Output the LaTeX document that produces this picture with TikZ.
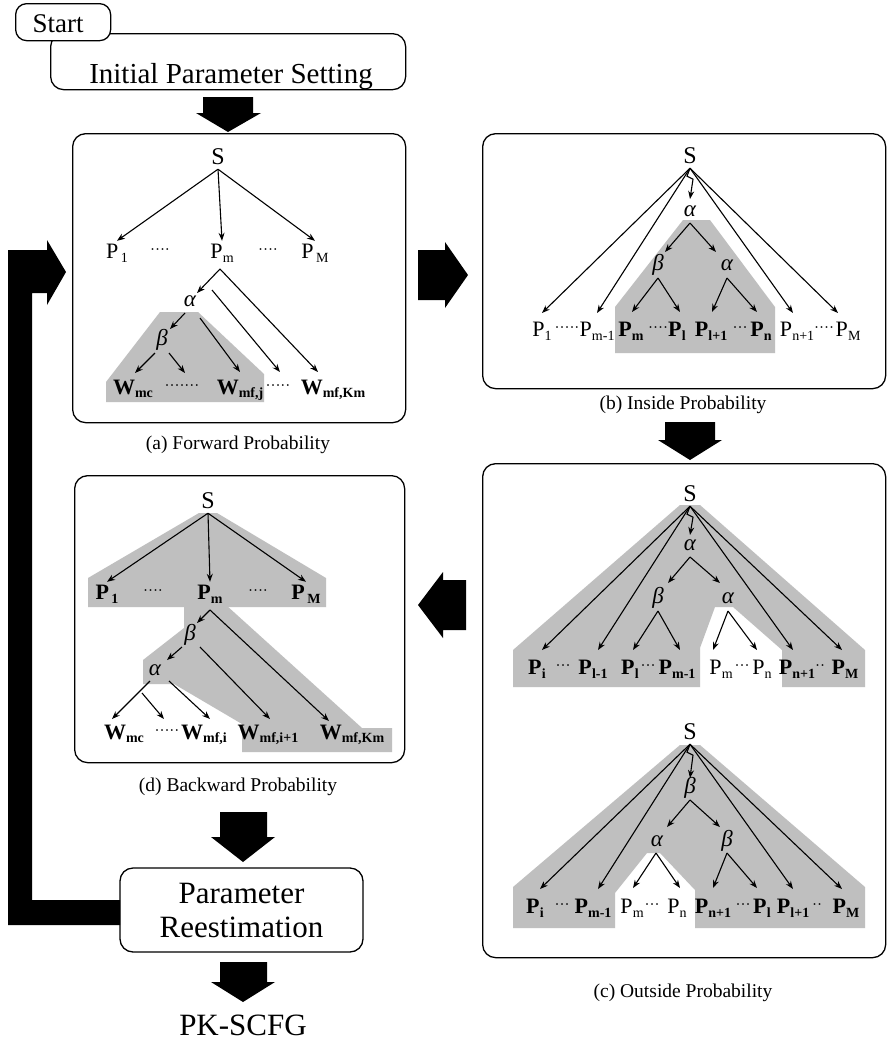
\documentclass[tikz,border=0pt]{standalone}
\usepackage{fontspec}
\setmainfont{Liberation Serif}
\usetikzlibrary{arrows.meta}
\newcommand{\PP}[1]{P\kern0.2pt\raisebox{-4.5pt}{\fontsize{14}{14}\selectfont #1}}
\newcommand{\PB}[1]{\textbf{P}\kern0.2pt\raisebox{-4.5pt}{\fontsize{14}{14}\selectfont\bfseries #1}}
\newcommand{\WW}[1]{\textbf{W}\raisebox{-3.5pt}{\fontsize{14}{14}\selectfont\bfseries #1}}
\newcommand{\ga}{\textit{α}}
\newcommand{\gb}{\textit{β}}
\begin{document}
\begin{tikzpicture}[x=1pt,y=-1pt,
  lbl/.style={inner sep=1pt,text height=16pt,text depth=4pt,font=\fontsize{22}{22}\selectfont},
  slbl/.style={inner sep=1pt,text height=16pt,text depth=4pt,font=\fontsize{24}{24}\selectfont},
  gk/.style={inner sep=1pt,text height=11pt,text depth=4pt,font=\fontsize{23}{23}\selectfont},
  dt/.style={inner sep=0pt,font=\fontsize{15}{15}\selectfont},
  arr/.style={-{Stealth[length=8pt,width=6pt]},line width=1.1pt},
  panel/.style={draw,line width=1.3pt,rounded corners=13pt,inner sep=0pt,anchor=north west},
  shd/.style={fill=black!25},
  blk/.style={fill=black},
  captxt/.style={font=\fontsize{19.5}{19.5}\selectfont},
]
\fill[white] (0,0) rectangle (887,1045);
\useasboundingbox (0,0) rectangle (887,1045);

% ---------- top boxes ----------
\node[panel,minimum width=355pt,minimum height=56pt] (init) at (50,33) {};
\node[anchor=base,font=\fontsize{29}{29}\selectfont] (initT) at (231,83) {Initial Parameter Setting};
\node[draw,line width=1.3pt,rounded corners=11pt,fill=white,minimum width=95pt,minimum height=37pt,inner sep=0pt,anchor=north west] (start) at (15,3) {};
\node[anchor=base,font=\fontsize{27}{27}\selectfont] (startT) at (58,32) {Start};

% ---------- block arrows ----------
\fill[blk] (203,97) -- (253,97) -- (253,113) -- (261,113) -- (228,132) -- (196,113) -- (203,113) -- cycle;
\fill[blk] (418,250) -- (445,250) -- (445,242) -- (468,275) -- (445,308) -- (445,300) -- (418,300) -- cycle;
\fill[blk] (665,422) -- (715,422) -- (715,440) -- (722,440) -- (690,460) -- (658,440) -- (665,440) -- cycle;
\fill[blk] (466,580) -- (443,580) -- (443,572) -- (418,605) -- (443,638) -- (443,630) -- (466,630) -- cycle;
\fill[blk] (220,812) -- (267,812) -- (267,837) -- (275,837) -- (243,862) -- (211,837) -- (220,837) -- cycle;
\fill[blk] (220,962) -- (267,962) -- (267,982) -- (275,982) -- (243,1002) -- (211,982) -- (220,982) -- cycle;
\fill[blk] (120,900) -- (120,925) -- (8,925) -- (8,250) -- (47,250) -- (47,240) -- (66,272) -- (47,305) -- (47,293) -- (32,293) -- (32,900) -- cycle;

% ---------- panel (a) ----------
\node[panel,minimum width=333pt,minimum height=289pt] (pa) at (72,133) {};
\fill[shd] (160,312) -- (198,312) -- (264,374) -- (264,402) -- (106,402) -- (106,382) -- cycle;
\node[slbl] (aS) at (218,158) {S};
\node[lbl] (aP1) at (117,252) {\PP{\,1}};
\node[dt] (ad1) at (160,252) {····};
\node[lbl] (aPm) at (222,252) {\PP{m}};
\node[dt] (ad2) at (268,252) {····};
\node[lbl] (aPM) at (315,252) {\PP{\,M}};
\node[gk] (aA) at (190,303) {\ga};
\node[gk] (aB) at (162,342) {\gb};
\node[lbl] (aW1) at (133,388) {\WW{mc}};
\node[dt] (ad3) at (182,388) {·······};
\node[lbl] (aW2) at (240,388) {\WW{mf,j}};
\node[dt] (ad4) at (278,388) {·····};
\node[lbl] (aW3) at (333,388) {\WW{mf,Km}};
\coordinate (aPt) at (220,269);
\coordinate (aAe) at (197,293);
\coordinate (aL2) at (212,290);
\coordinate (aAb) at (185,313);
\coordinate (aBe) at (170,329);
\coordinate (aAr) at (200,318);
\coordinate (aBl) at (155,353);
\coordinate (aBr) at (169,353);
\coordinate (aE1) at (135,373);
\coordinate (aE2) at (185,373);
\coordinate (aE3) at (240,372);
\coordinate (aE4) at (280,372);
\coordinate (aE5) at (318,372);
\draw[arr] (aS.south) -- (aP1.north);
\draw[arr] (aS.south) -- (aPm.north);
\draw[arr] (aS.south) -- (aPM.north);
\draw[arr] (aPt) -- (aAe);
\draw[arr] (aPt) -- (aE5);
\draw[arr] (aL2) -- (aE4);
\draw[arr] (aAb) -- (aBe);
\draw[arr] (aAr) -- (aE3);
\draw[arr] (aBl) -- (aE1);
\draw[arr] (aBr) -- (aE2);
\node[captxt] (capa) at (238,445) {(a) Forward Probability};

% ---------- panel (b) ----------
\node[panel,minimum width=403pt,minimum height=255pt] (pb) at (482,133) {};
\fill[shd] (683,220) -- (710,220) -- (775,307) -- (775,353) -- (615,353) -- (615,307) -- cycle;
\node[slbl] (bS) at (690,157) {S};
\node[gk] (bA) at (690,213) {\ga};
\node[gk] (bB) at (658,267) {\gb};
\node[gk] (bA2) at (727,267) {\ga};
\node[lbl] (bP1) at (542,330) {\PP{1}};
\node[dt] (bd1) at (567,330) {·····};
\node[lbl] (bPm1) at (597,330) {\PP{m-1}};
\node[lbl] (bPm) at (631,330) {\PB{m}};
\node[dt] (bd2) at (658,330) {····};
\node[lbl] (bPl) at (677,330) {\PB{l}};
\node[lbl] (bPl1) at (711,330) {\PB{l+1}};
\node[dt] (bd3) at (740,330) {···};
\node[lbl] (bPn) at (761,330) {\PB{n}};
\node[lbl] (bPn1) at (797,330) {\PP{n+1}};
\node[dt] (bd4) at (824,330) {····};
\node[lbl] (bPM) at (848,330) {\PP{M}};
\coordinate (bZ) at (690,199);
\coordinate (bAs) at (690,223);
\coordinate (bBn) at (665,252);
\coordinate (bA2n) at (716,252);
\coordinate (bBs) at (658,278);
\coordinate (bA2s) at (727,278);
\coordinate (bE1) at (542,313);
\coordinate (bE2) at (597,313);
\coordinate (bE3) at (632,312);
\coordinate (bE4) at (680,312);
\coordinate (bE5) at (712,312);
\coordinate (bE6) at (757,312);
\coordinate (bE7) at (793,313);
\coordinate (bE8) at (838,313);
\draw[arr] (bS.south) -- ++(-3,8) -- ++(6,3) -- (bZ);
\draw[arr] (bS.south) -- (bE1);
\draw[arr] (bS.south) -- (bE2);
\draw[arr] (bS.south) -- (bE7);
\draw[arr] (bS.south) -- (bE8);
\draw[arr] (bAs) -- (bBn);
\draw[arr] (bAs) -- (bA2n);
\draw[arr] (bBs) -- (bE3);
\draw[arr] (bBs) -- (bE4);
\draw[arr] (bA2s) -- (bE5);
\draw[arr] (bA2s) -- (bE6);
\node[captxt] (capb) at (683,405) {(b) Inside Probability};

% ---------- panel (c) ----------
\node[panel,minimum width=403pt,minimum height=494pt] (pc) at (482,463) {};
% upper tree
\fill[shd] (680,505) -- (700,505) -- (865,650) -- (865,687) -- (782,687) -- (782,650) -- (733,607) -- (715,607) -- (700,648) -- (700,687) -- (513,687) -- (513,650) -- cycle;
\node[slbl] (cS) at (690,495) {S};
\node[gk] (cA) at (690,547) {\ga};
\node[gk] (cB) at (658,600) {\gb};
\node[gk] (cA2) at (728,600) {\ga};
\node[lbl] (cPi) at (537,668) {\PB{i}};
\node[dt] (cd1) at (563,668) {···};
\node[lbl] (cPl1) at (593,668) {\PB{l-1}};
\node[lbl] (cPl) at (630,668) {\PB{l}};
\node[dt] (cd2) at (648,668) {···};
\node[lbl] (cPm1) at (677,668) {\PB{m-1}};
\node[lbl] (cPm) at (721,668) {\PP{m}};
\node[dt] (cd3) at (742,668) {···};
\node[lbl] (cPn) at (762,668) {\PP{n}};
\node[lbl] (cPn1) at (797,668) {\PB{n+1}};
\node[dt] (cd4) at (820,668) {··};
\node[lbl] (cPM) at (845,668) {\PB{M}};
\coordinate (cZ) at (690,535);
\coordinate (cAs) at (690,557);
\coordinate (cBn) at (668,583);
\coordinate (cA2n) at (720,583);
\coordinate (cBs) at (658,611);
\coordinate (cA2s) at (728,611);
\coordinate (cE1) at (542,650);
\coordinate (cE2) at (598,650);
\coordinate (cE3) at (633,650);
\coordinate (cE4) at (680,650);
\coordinate (cE5) at (713,650);
\coordinate (cE6) at (757,650);
\coordinate (cE7) at (793,650);
\coordinate (cE8) at (842,650);
\draw[arr] (cS.south) -- ++(-3,8) -- ++(6,3) -- (cZ);
\draw[arr] (cS.south) -- (cE1);
\draw[arr] (cS.south) -- (cE2);
\draw[arr] (cS.south) -- (cE7);
\draw[arr] (cS.south) -- (cE8);
\draw[arr] (cAs) -- (cBn);
\draw[arr] (cAs) -- (cA2n);
\draw[arr] (cBs) -- (cE3);
\draw[arr] (cBs) -- (cE4);
\draw[arr] (cA2s) -- (cE5);
\draw[arr] (cA2s) -- (cE6);
% lower tree
\fill[shd] (680,745) -- (700,745) -- (865,887) -- (865,928) -- (695,928) -- (695,890) -- (660,853) -- (647,853) -- (615,893) -- (615,928) -- (513,928) -- (513,887) -- cycle;
\node[slbl] (dS2) at (690,733) {S};
\node[gk] (cB1) at (690,790) {\gb};
\node[gk] (cA3) at (657,843) {\ga};
\node[gk] (cB2) at (727,843) {\gb};
\node[lbl] (cQi) at (535,907) {\PB{i}};
\node[dt] (cq1) at (562,907) {···};
\node[lbl] (cQm1) at (593,907) {\PB{m-1}};
\node[lbl] (cQm) at (632,907) {\PP{m}};
\node[dt] (cq2) at (652,907) {···};
\node[lbl] (cQn) at (677,907) {\PP{n}};
\node[lbl] (cQn1) at (713,907) {\PB{n+1}};
\node[dt] (cq3) at (743,907) {···};
\node[lbl] (cQl) at (762,907) {\PB{l}};
\node[lbl] (cQl1) at (793,907) {\PB{l+1}};
\node[dt] (cq4) at (817,907) {··};
\node[lbl] (cQM) at (846,907) {\PB{M}};
\coordinate (cZ2) at (690,778);
\coordinate (cB1s) at (690,800);
\coordinate (cA3n) at (667,827);
\coordinate (cB2n) at (720,827);
\coordinate (cA3s) at (656,853);
\coordinate (cB2s) at (727,853);
\coordinate (cF1) at (540,889);
\coordinate (cF2) at (598,889);
\coordinate (cF3) at (633,888);
\coordinate (cF4) at (680,888);
\coordinate (cF5) at (713,888);
\coordinate (cF6) at (757,888);
\coordinate (cF7) at (793,889);
\coordinate (cF8) at (842,889);
\draw[arr] (dS2.south) -- ++(-3,8) -- ++(6,3) -- (cZ2);
\draw[arr] (dS2.south) -- (cF1);
\draw[arr] (dS2.south) -- (cF2);
\draw[arr] (dS2.south) -- (cF7);
\draw[arr] (dS2.south) -- (cF8);
\draw[arr] (cB1s) -- (cA3n);
\draw[arr] (cB1s) -- (cB2n);
\draw[arr] (cA3s) -- (cF3);
\draw[arr] (cA3s) -- (cF4);
\draw[arr] (cB2s) -- (cF5);
\draw[arr] (cB2s) -- (cF6);
\node[captxt] (capc) at (683,993) {(c) Outside Probability};

% ---------- panel (d) ----------
\node[panel,minimum width=330pt,minimum height=287pt] (pd) at (74,475) {};
\fill[shd] (199,513) -- (217,513) -- (326,578) -- (326,607) -- (88,607) -- (88,578) -- cycle;
\fill[shd] (184,605) -- (226,605) -- (362,728) -- (392,728) -- (392,752) -- (242,752) -- (242,724) -- (174,684) -- (143,684) -- (143,660) -- (184,628) -- cycle;
\node[slbl] (eS) at (208,502) {S};
\node[lbl] (eP1) at (107,593) {\PB{\,1}};
\node[dt] (ed1) at (153,593) {····};
\node[lbl] (ePm) at (210,593) {\PB{m}};
\node[dt] (ed2) at (258,593) {····};
\node[lbl] (ePM) at (306,593) {\PB{\,M}};
\node[gk] (eB) at (190,637) {\gb};
\node[gk] (eA) at (155,672) {\ga};
\node[lbl] (eW1) at (124,733) {\WW{mc}};
\node[dt] (ed3) at (167,733) {·····};
\node[lbl] (eW2) at (204,733) {\WW{mf,i}};
\node[lbl] (eW3) at (268,733) {\WW{mf,i+1}};
\node[lbl] (eW4) at (352,733) {\WW{mf,Km}};
\coordinate (ePt) at (210,610);
\coordinate (eBe) at (197,623);
\coordinate (eBl) at (182,647);
\coordinate (eAe) at (167,660);
\coordinate (eBr) at (200,647);
\coordinate (eAl) at (150,681);
\coordinate (eAr) at (169,681);
\coordinate (eS2) at (142,693);
\coordinate (eE1) at (112,719);
\coordinate (eE2) at (164,719);
\coordinate (eE3) at (210,719);
\coordinate (eE4) at (270,719);
\coordinate (eE5) at (329,721);
\draw[arr] (eS.south) -- (eP1.north);
\draw[arr] (eS.south) -- (ePm.north);
\draw[arr] (eS.south) -- (ePM.north);
\draw[arr] (ePt) -- (eBe);
\draw[arr] (ePt) -- (eE5);
\draw[arr] (eBl) -- (eAe);
\draw[arr] (eBr) -- (eE4);
\draw[arr] (eAl) -- (eE1);
\draw[arr] (eS2) -- (eE2);
\draw[arr] (eAr) -- (eE3);
\node[captxt] (capd) at (238,787) {(d) Backward Probability};

% ---------- bottom ----------
\node[draw,line width=1.3pt,rounded corners=13pt,minimum width=243pt,minimum height=84pt,inner sep=0pt,align=center,font=\fontsize{31}{34}\selectfont] (reest) at (241.5,910) {Parameter\\Reestimation};
\node[font=\fontsize{31}{31}\selectfont] (pk) at (243,1025) {PK-SCFG};
\end{tikzpicture}
\end{document}
